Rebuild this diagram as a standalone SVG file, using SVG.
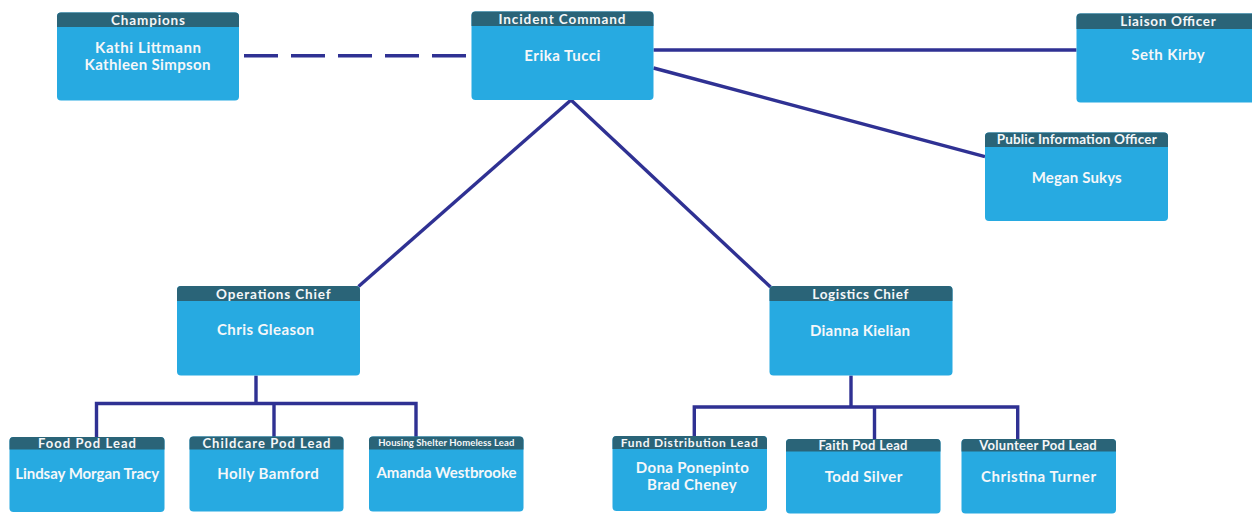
<svg xmlns="http://www.w3.org/2000/svg" width="1252" height="518" viewBox="0 0 1252 518">
<style>
.body{fill:#27aae1}
.head{fill:#2a6478}
.t{font-family:Lato,"Open Sans","Liberation Sans",sans-serif;font-weight:700;fill:#f5f7f9;text-anchor:middle}
.name{font-size:15px}
.hl{font-size:13.5px}
.hs{font-size:13px}
.conn{fill:none;stroke:#2f3193;stroke-width:3.4}
</style>
<rect width="1252" height="518" fill="#ffffff"/>
<g id="connectors">
<path class="conn" d="M244 55.7H466.5" stroke-dasharray="34 13"/>
<path class="conn" d="M653.5 50H1076.5"/>
<path class="conn" d="M653.5 68L985 156.7"/>
<path class="conn" d="M571 100L358.5 286.5"/>
<path class="conn" d="M571 100L770.5 287"/>
<path class="conn" d="M256 375.5V403.5M96.5 437V403.5H416V437M274 403.5V437"/>
<path class="conn" d="M851 375.5V407M694.3 436V407H1017.7V439M874.5 407V439"/>
</g>
<g id="champions">
<rect class="body" x="57" y="12.5" width="182" height="88" rx="4"/>
<path class="head" d="M57 27V16.5Q57 12.5 61 12.5H235Q239 12.5 239 16.5V27Z"/>
<text class="t hl" x="148" y="24.5" textLength="74">Champions</text>
<text class="t name" x="148" y="52.5" textLength="106">Kathi Littmann</text>
<text class="t name" x="147.5" y="70.3" textLength="126">Kathleen Simpson</text>
</g>
<g id="incident-command">
<rect class="body" x="471.5" y="11.5" width="182" height="88.5" rx="4"/>
<path class="head" d="M471.5 26V15.5Q471.5 11.5 475.5 11.5H649.5Q653.5 11.5 653.5 15.5V26Z"/>
<text class="t hl" x="562" y="24" textLength="127">Incident Command</text>
<text class="t name" x="562.3" y="60.5" textLength="76">Erika Tucci</text>
</g>
<g id="liaison-officer">
<rect class="body" x="1076.5" y="13.5" width="182" height="89" rx="4"/>
<path class="head" d="M1076.5 29V17.5Q1076.5 13.5 1080.5 13.5H1254.5Q1258.5 13.5 1258.5 17.5V29Z"/>
<text class="t hl" x="1168" y="25.5" textLength="95.5">Liaison Officer</text>
<text class="t name" x="1168" y="60" textLength="73.5">Seth Kirby</text>
</g>
<g id="public-information-officer">
<rect class="body" x="985" y="132.5" width="183" height="88.5" rx="4"/>
<path class="head" d="M985 147V136.5Q985 132.5 989 132.5H1164Q1168 132.5 1168 136.5V147Z"/>
<text class="t hl" x="1076.7" y="143.5" textLength="160">Public Information Officer</text>
<text class="t name" x="1076.7" y="183.3" textLength="90">Megan Sukys</text>
</g>
<g id="operations-chief">
<rect class="body" x="177" y="286" width="183" height="89.5" rx="4"/>
<path class="head" d="M177 301V290Q177 286 181 286H356Q360 286 360 290V301Z"/>
<text class="t hl" x="273.3" y="299.3" textLength="114.5">Operations Chief</text>
<text class="t name" x="265.5" y="335" textLength="97">Chris Gleason</text>
</g>
<g id="logistics-chief">
<rect class="body" x="769.5" y="286" width="183" height="89.5" rx="4"/>
<path class="head" d="M769.5 301V290Q769.5 286 773.5 286H948.5Q952.5 286 952.5 290V301Z"/>
<text class="t hl" x="860.3" y="299" textLength="96">Logistics Chief</text>
<text class="t name" x="860" y="335.5" textLength="100">Dianna Kielian</text>
</g>
<g id="food-pod-lead">
<rect class="body" x="9.5" y="437" width="155" height="75" rx="4"/>
<path class="head" d="M9.5 449.5V441Q9.5 437 13.5 437H160.5Q164.5 437 164.5 441V449.5Z"/>
<text class="t hs" x="87" y="448" textLength="98">Food Pod Lead</text>
<text class="t name" x="87.2" y="479.3" textLength="144">Lindsay Morgan Tracy</text>
</g>
<g id="childcare-pod-lead">
<rect class="body" x="189.5" y="436.5" width="154" height="75" rx="4"/>
<path class="head" d="M189.5 449.5V440.5Q189.5 436.5 193.5 436.5H339.5Q343.5 436.5 343.5 440.5V449.5Z"/>
<text class="t hs" x="266.4" y="448" textLength="128">Childcare Pod Lead</text>
<text class="t name" x="268" y="479" textLength="101.5">Holly Bamford</text>
</g>
<g id="housing-shelter-homeless-lead">
<rect class="body" x="369" y="436.5" width="154.5" height="75" rx="4"/>
<path class="head" d="M369 449.5V440.5Q369 436.5 373 436.5H519.5Q523.5 436.5 523.5 440.5V449.5Z"/>
<text class="t" style="font-size:9.5px" x="446.3" y="446" textLength="136">Housing Shelter Homeless Lead</text>
<text class="t name" x="446.5" y="478" textLength="140">Amanda Westbrooke</text>
</g>
<g id="fund-distribution-lead">
<rect class="body" x="612.5" y="436" width="154.5" height="75" rx="4"/>
<path class="head" d="M612.5 449V440Q612.5 436 616.5 436H763Q767 436 767 440V449Z"/>
<text class="t" style="font-size:12px" x="689.2" y="446.5" textLength="137">Fund Distribution Lead</text>
<text class="t name" x="692.3" y="473.3" textLength="113">Dona Ponepinto</text>
<text class="t name" x="691.8" y="490" textLength="89.5">Brad Cheney</text>
</g>
<g id="faith-pod-lead">
<rect class="body" x="786" y="439" width="154.5" height="74.5" rx="4"/>
<path class="head" d="M786 451.5V443Q786 439 790 439H936.5Q940.5 439 940.5 443V451.5Z"/>
<text class="t hs" x="863" y="450.2" textLength="89">Faith Pod Lead</text>
<text class="t name" x="863.5" y="481.8" textLength="77.5">Todd Silver</text>
</g>
<g id="volunteer-pod-lead">
<rect class="body" x="961.5" y="439" width="154.5" height="74.5" rx="4"/>
<path class="head" d="M961.5 451.5V443Q961.5 439 965.5 439H1112Q1116 439 1116 443V451.5Z"/>
<text class="t hs" x="1038" y="450.2" textLength="117.5">Volunteer Pod Lead</text>
<text class="t name" x="1038.5" y="481.7" textLength="115">Christina Turner</text>
</g>
</svg>
